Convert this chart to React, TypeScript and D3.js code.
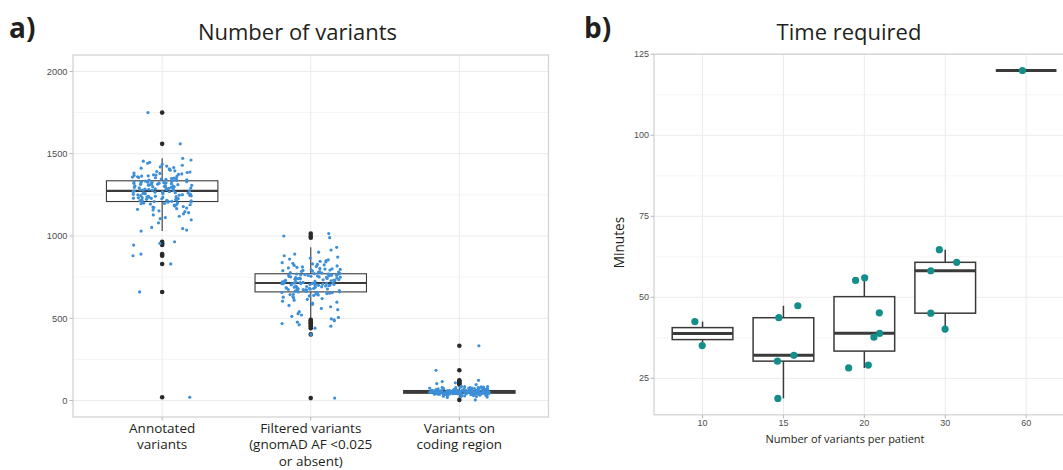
import React from 'react'
import * as d3 from 'd3'

// ---- panel a) number of variants per sample
const variantCats = ['Annotated variants', 'Filtered variants', 'Variants on coding region']
const variantLabels = [
	['Annotated', 'variants'],
	['Filtered variants', '(gnomAD AF <0.025', 'or absent)'],
	['Variants on', 'coding region'],
]

const annotatedVariants = [
	20, 660, 830, 880, 890, 945, 955, 965,
	1030, 1036, 1045, 1052, 1080, 1098, 1105, 1112, 1120, 1128, 1135, 1142, 1148, 1153, 1158, 1162, 1166, 1170,
	1173, 1176, 1179, 1182, 1185, 1188, 1190, 1192, 1194, 1196, 1198, 1200, 1202, 1204, 1205, 1207,
	1209, 1211, 1212, 1214, 1215, 1217, 1218, 1220, 1221, 1223, 1224, 1226, 1227, 1229, 1230, 1232, 1233, 1235,
	1236, 1238, 1239, 1241, 1242, 1244, 1245, 1247, 1248, 1250, 1251, 1253, 1254, 1256, 1257, 1259, 1260, 1262,
	1263, 1265, 1266, 1268, 1269, 1271,
	1273, 1275, 1276, 1278, 1279, 1281, 1282, 1284, 1285, 1287, 1288, 1290, 1291, 1293, 1294, 1296, 1297, 1299,
	1300, 1302, 1303, 1305, 1306, 1308, 1309, 1311, 1312, 1314, 1315, 1317, 1318, 1320, 1321, 1323, 1324, 1326,
	1327, 1328, 1329, 1330, 1331, 1332, 1334,
	1336, 1338, 1340, 1342, 1344, 1346, 1348, 1350, 1352, 1354, 1356, 1358, 1360, 1362, 1364, 1366, 1368, 1370,
	1372, 1374, 1377, 1380, 1383, 1386, 1389, 1392, 1396, 1400, 1404, 1408, 1412, 1416, 1420, 1425, 1430, 1436,
	1442, 1448, 1455, 1462, 1472, 1560, 1750,
]

const filteredVariants = [
	15, 402, 440, 452, 460, 468, 476, 485, 490,
	496, 505, 512, 520, 528, 540, 552, 560, 570, 578, 585, 592, 598, 604, 610, 615, 620, 624, 628, 632, 636, 639,
	642, 644, 646, 648, 650, 652, 653, 655, 656, 657, 658,
	660, 661, 663, 664, 665, 667, 668, 670, 671, 672, 674, 675, 677, 678, 679, 681, 682, 684, 685, 686, 688, 689,
	691, 692, 693, 695, 696, 698, 699, 700, 702, 703, 705, 706, 707, 708, 709, 710, 710, 711, 712, 712,
	714, 715, 717, 718, 720, 721, 722, 724, 725, 727, 728, 730, 731, 732, 734, 735, 737, 738, 740, 741, 742, 744,
	745, 747, 748, 750, 751, 752, 754, 755, 757, 758, 760, 761, 762, 763, 764, 765, 766, 767, 768, 769, 769,
	771, 773, 775, 777, 779, 781, 783, 785, 787, 789, 791, 793, 795, 797, 799, 801, 803, 806, 809, 812, 815, 818,
	821, 824, 827, 830, 834, 838, 842, 846, 850, 855, 860, 866, 872, 880, 890, 902, 915, 931, 990, 1000, 1015,
]

const codingVariants = [
	4,
	19, 21, 23, 25, 26, 28, 29, 30, 31, 32, 33, 34, 34, 35, 35, 36, 36, 37, 37, 38, 38, 39, 39, 39, 40, 40, 40,
	41, 41, 41, 42, 42, 42, 42, 43, 43, 43, 43, 44, 44, 44,
	44, 44, 45, 45, 45, 45, 46, 46, 46, 46, 47, 47, 47, 47, 47, 48, 48, 48, 48, 48, 49, 49, 49, 49, 49, 50, 50,
	50, 50, 50, 50, 51, 51, 51, 51, 51, 51, 52, 52, 52, 52, 52,
	52, 52, 53, 53, 53, 53, 53, 54, 54, 54, 54, 54, 55, 55, 55, 55, 55, 56, 56, 56, 56, 57, 57, 57, 57, 57, 58,
	58, 58, 58, 59, 59, 59, 59, 59, 60, 60, 60, 60, 60, 61, 61, 61,
	61, 62, 62, 63, 63, 64, 64, 65, 65, 66, 66, 67, 67, 68, 69, 69, 70, 71, 72, 72, 73, 74, 75, 75, 76, 77, 78,
	78, 79, 80, 81, 82, 83, 84, 85, 86, 97, 103, 108, 115, 123, 184, 333,
]

const variantTicks = [0, 500, 1000, 1500, 2000]
const variantMinor = [250, 750, 1250, 1750]

// ---- panel b) time required
const timeCats = ['10', '15', '20', '30', '60']
const minutes10 = [42.5, 35.1]
const minutes15 = [43.7, 47.4, 30.3, 32.1, 18.8]
const minutes20 = [55.2, 56, 45.2, 38.9, 37.7, 28.2, 29.1]
const minutes30 = [64.7, 60.8, 58.2, 45.1, 40.2]
const minutes60 = [120]
// horizontal jitter that was drawn, as a fraction of a category step
const jitter10 = [-0.095, -0.004]
const jitter15 = [-0.057, 0.178, -0.074, 0.129, -0.069]
const jitter20 = [-0.108, 0.004, 0.185, 0.189, 0.119, -0.194, 0.049]
const jitter30 = [-0.073, 0.142, -0.179, -0.179, -0.002]
const jitter60 = [-0.046]
const timeTicks = [25, 50, 75, 100, 125]
const timeMinor = [37.5, 62.5, 87.5, 112.5]

const W = 1063, H = 470
const BLUE = '#3d8fd8'
const TEAL = '#148e8b'
const BOX = '#3a3a3a'
const GRID = '#ebebeb'
const GRID_MINOR = '#f5f5f5'
const BORDER = '#d4d4d4'
const TICK_TEXT = '#4d4d4d'
const TXT = '#231f20'
const TITLE_FONT = '"Open Sans", sans-serif'
const TICK_FONT = '"Liberation Sans", Arial, sans-serif'

function boxStats(vals) {
	const s = [...vals].sort(d3.ascending)
	const q1 = d3.quantile(s, 0.25), med = d3.quantile(s, 0.5), q3 = d3.quantile(s, 0.75)
	const iqr = q3 - q1
	const lo = q1 - 1.5 * iqr, hi = q3 + 1.5 * iqr
	const inside = s.filter(v => v >= lo && v <= hi)
	return { q1, med, q3, wLo: d3.min(inside), wHi: d3.max(inside), outliers: s.filter(v => v < lo || v > hi) }
}

// deterministic scatter for the jittered points, in [-0.5, 0.5)
const spread = (i, g) => {
	const s = Math.sin(i * 127.1 + g * 311.7 + 0.5) * 43758.5453
	return s - Math.floor(s) - 0.5
}

function Box({ x, half, y, st, lw = 1.1 }) {
	return (
		<g stroke={BOX} fill="none">
			<line x1={x} x2={x} y1={y(st.wHi)} y2={y(st.q3)} strokeWidth={lw} />
			<line x1={x} x2={x} y1={y(st.q1)} y2={y(st.wLo)} strokeWidth={lw} />
			<rect x={x - half} width={half * 2} y={y(st.q3)} height={Math.max(0, y(st.q1) - y(st.q3))} fill="#fff" strokeWidth={lw} />
			<line x1={x - half} x2={x + half} y1={y(st.med)} y2={y(st.med)} strokeWidth={lw * 2} />
		</g>
	)
}

const VariantsPanel = () => {
	const left = 73, right = 548.5, top = 55, bottom = 417
	const x = d3.scalePoint().domain(variantCats).range([left, right]).padding(0.6)
	const y = d3.scaleLinear().domain([-100, 2100]).range([bottom, top])
	const step = x.step()
	const groups = [annotatedVariants, filteredVariants, codingVariants]

	return (
		<g>
			<text x={9} y={38} fontFamily={TITLE_FONT} fontWeight={700} fontSize={28} fill={TXT}>a)</text>
			<text x={297.5} y={40} textAnchor="middle" fontFamily={TITLE_FONT} fontSize={22} fill={TXT}>Number of variants</text>
			{variantMinor.map(t => <line key={'m' + t} x1={left} x2={right} y1={y(t)} y2={y(t)} stroke={GRID_MINOR} />)}
			{variantTicks.map(t => <line key={'g' + t} x1={left} x2={right} y1={y(t)} y2={y(t)} stroke={GRID} />)}
			{variantCats.map(c => <line key={c} x1={x(c)} x2={x(c)} y1={top} y2={bottom} stroke={GRID} />)}
			<rect x={left} y={top} width={right - left} height={bottom - top} fill="none" stroke={BORDER} strokeWidth={1.3} />
			{variantTicks.map(t => (
				<g key={'t' + t}>
					<line x1={left - 3.5} x2={left} y1={y(t)} y2={y(t)} stroke="#b8b8b8" />
					<text x={left - 5.5} y={y(t)} dy="0.35em" textAnchor="end" fontFamily={TICK_FONT} fontSize={9.3} fill={TICK_TEXT}>{t}</text>
				</g>
			))}
			{variantCats.map((c, ci) => (
				<g key={'x' + c}>
					<line x1={x(c)} x2={x(c)} y1={bottom} y2={bottom + 3.5} stroke="#b8b8b8" />
					{variantLabels[ci].map((l, li) => (
						<text key={l} x={x(c)} y={432.5 + li * 16.7} textAnchor="middle" fontFamily={TITLE_FONT} fontSize={13.5} fill={TXT}>{l}</text>
					))}
				</g>
			))}
			{groups.map((vals, gi) => {
				const cx = x(variantCats[gi])
				const st = boxStats(vals)
				return (
					<g key={gi}>
						<Box x={cx} half={step * 0.375} y={y} st={st} />
						{st.outliers.map((v, i) => <circle key={i} cx={cx} cy={y(v)} r={2.3} fill="#2a2a2a" />)}
						{vals.map((v, i) => (
							<circle key={'p' + i} cx={cx + spread(i, gi) * 0.4 * step} cy={y(v)} r={1.6} fill={BLUE} />
						))}
					</g>
				)
			})}
		</g>
	)
}

const TimePanel = () => {
	const left = 654, top = 54.1, bottom = 414.8
	const stepGuess = 80.9
	const right = left + (timeCats.length - 1 + 1.2) * stepGuess
	const x = d3.scalePoint().domain(timeCats).range([left, right]).padding(0.6)
	const all = [minutes10, minutes15, minutes20, minutes30, minutes60]
	const jit = [jitter10, jitter15, jitter20, jitter30, jitter60]
	const [lo, hi] = d3.extent(all.flat())
	const pad = (hi - lo) * 0.05
	const y = d3.scaleLinear().domain([lo - pad, hi + pad]).range([bottom, top])
	const step = x.step()

	return (
		<g>
			<text x={584} y={38} fontFamily={TITLE_FONT} fontWeight={700} fontSize={28} fill={TXT}>b)</text>
			<text x={849} y={40} textAnchor="middle" fontFamily={TITLE_FONT} fontSize={22} fill={TXT}>Time required</text>
			{timeMinor.map(t => <line key={'m' + t} x1={left} x2={right} y1={y(t)} y2={y(t)} stroke={GRID_MINOR} />)}
			{timeTicks.map(t => <line key={'g' + t} x1={left} x2={right} y1={y(t)} y2={y(t)} stroke={GRID} />)}
			{timeCats.map(c => <line key={c} x1={x(c)} x2={x(c)} y1={top} y2={bottom} stroke={GRID} />)}
			<rect x={left} y={top} width={right - left} height={bottom - top} fill="none" stroke={BORDER} strokeWidth={1.3} />
			{timeTicks.map(t => (
				<g key={'t' + t}>
					<line x1={left - 3.5} x2={left} y1={y(t)} y2={y(t)} stroke="#b8b8b8" />
					<text x={left - 5} y={y(t)} dy="0.35em" textAnchor="end" fontFamily={TICK_FONT} fontSize={9} fill={TICK_TEXT}>{t}</text>
				</g>
			))}
			{timeCats.map(c => (
				<g key={'x' + c}>
					<line x1={x(c)} x2={x(c)} y1={bottom} y2={bottom + 3.5} stroke="#b8b8b8" />
					<text x={x(c)} y={426} textAnchor="middle" fontFamily={TICK_FONT} fontSize={9} fill={TICK_TEXT}>{c}</text>
				</g>
			))}
			<text x={845} y={442.5} textAnchor="middle" fontFamily={TITLE_FONT} fontSize={11} fill={TXT}>Number of variants per patient</text>
			<text transform="translate(624,242.5) rotate(-90)" textAnchor="middle" fontFamily={TITLE_FONT} fontSize={13.6} fill={TXT}>Minutes</text>
			{all.map((vals, gi) => {
				const cx = x(timeCats[gi])
				const st = boxStats(vals)
				return (
					<g key={gi}>
						<Box x={cx} half={step * 0.375} y={y} st={st} lw={1.5} />
						{vals.map((v, i) => (
							<circle key={i} cx={cx + jit[gi][i] * step} cy={y(v)} r={3.6} fill={TEAL} />
						))}
					</g>
				)
			})}
		</g>
	)
}

export default function App() {
	return (
		<svg width={W} height={H} style={{ position: 'absolute', left: 0, top: 0, background: '#fff' }}>
			<VariantsPanel />
			<TimePanel />
		</svg>
	)
}
